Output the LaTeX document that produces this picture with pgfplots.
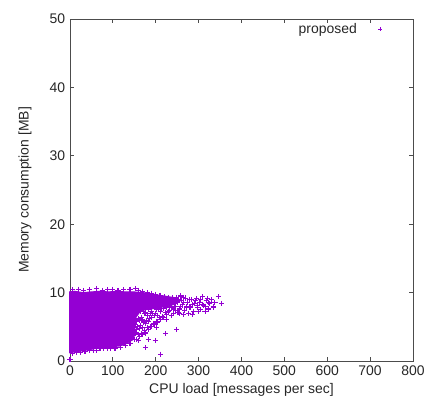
\documentclass[border=0pt]{standalone}
\usepackage{fontspec}
\setmainfont{Liberation Sans}
\usepackage{pgfplots}
\pgfplotsset{compat=1.18}
\definecolor{dv}{RGB}{148,0,211}
\begin{document}
\fontsize{14}{16}\selectfont
\begin{tikzpicture}
\useasboundingbox (-70bp,-38bp) rectangle (366bp,361bp);
\begin{axis}[
  scale only axis, width=343bp, height=342bp,
  at={(0,0)}, anchor=south west,
  xmin=0, xmax=800, ymin=0, ymax=50,
  xtick={0,100,...,800}, ytick={0,10,...,50},
  tick align=inside, major tick length=4bp,
  axis line style={black!70, line width=0.8bp},
  every tick/.style={black!70, line width=0.8bp},
  tick label style={black!85, font=\fontsize{14}{16}\selectfont},
  /pgf/number format/assume math mode=true,
  xlabel={CPU load [messages per sec]},
  ylabel={Memory consumption [MB]},
  label style={black!85, font=\fontsize{14}{16}\selectfont},
  xlabel style={at={(axis description cs:0.5,-0.085)}, anchor=center},
  ylabel style={at={(axis description cs:-0.131,0.5)}, anchor=center},
  clip=false,
  legend plot pos=right,
  legend cell align=right,
  legend style={draw=none, fill=none, at={(axis description cs:0.93,1.0)}, anchor=north east, font=\fontsize{14}{16}\selectfont, text=black!85},
  legend image code/.code={\path[draw=none, fill=none] (0cm,-0.05cm) rectangle (0.95cm,0.05cm); \draw[#1, mark size=1.8pt] plot coordinates {(0.75cm,0cm)};},
]
% dense core of the cloud
\addplot[fill=dv, draw=dv, line width=1pt, forget plot] coordinates {
(-2,10.1) (10,10.2) (30,10.0) (50,10.1) (70,10.2) (90,10.1) (110,10.2) (130,10.1)
(150,10.1) (170,10.0) (190,9.8) (210,9.6) (230,9.4) (250,9.2) (256,8.7)
(245,8.3) (225,8.0) (200,7.7) (175,7.5) (163,7.2) (154,6.4) (149,3.2) (130,2.5)
(117,2.2) (90,2.05) (70,1.95) (40,1.6) (20,1.4) (-2,1.2)
};
\addplot[only marks, mark=+, mark size=2.6pt, line width=1.1pt, color=dv] coordinates {
(151,3.1) (149,3.7) (152,4.1) (148,4.9) (153,5.3) (150,6.1) (147,6.7) (152,7.1)
(156,3.2) (159,3.9) (155,4.6) (158,5.0) (156,5.8) (160,6.2) (155,6.9) (158,7.4)
(163,3.6) (166,4.0) (162,4.8) (165,5.2) (163,6.0) (167,6.4) (164,7.2)
(170,3.9) (173,4.5) (169,4.9) (172,5.7) (170,6.1) (174,6.9) (171,7.5)
(177,4.1) (180,4.9) (176,5.5) (179,5.9) (181,6.7) (177,7.1)
(184,4.6) (187,5.0) (183,5.8) (186,6.2) (188,7.0) (184,7.6)
(191,5.1) (194,5.5) (190,6.3) (193,6.9) (191,7.3)
(198,5.4) (201,5.8) (197,6.6) (200,7.0) (202,7.6)
(205,5.7) (208,6.3) (204,6.7) (207,7.5)
(212,6.1) (215,6.5) (211,7.3) (214,7.7)
(219,6.3) (222,7.1) (219,7.7) (226,6.8) (229,7.2) (225,7.9)
(245,8.0) (250,8.6) (255,7.6) (260,8.9) (262,8.2) (268,7.4) (270,9.2) (275,8.5)
(280,7.9) (283,9.0) (288,7.2) (290,8.4) (295,9.1) (298,7.8) (302,8.6) (305,7.5)
(310,9.4) (312,8.1) (318,8.8) (322,7.6) (326,8.4) (330,9.0) (334,7.9) (338,8.6)
(346,9.4) (353,8.4) (248,9.3) (258,9.5) (242,7.0) (252,7.1) (265,6.8) (276,7.0)
(285,6.8) (300,7.2) (315,7.3) (240,9.2) (230,9.3) (232,7.4) (236,6.7)
(258,8.0) (265,8.6) (272,7.9) (278,9.0) (285,8.3) (292,8.8) (297,8.1) (304,9.0)
(308,8.3) (315,8.0) (320,9.1) (324,8.5) (264,9.3) (252,9.0) (246,7.4) (256,7.0)
(241,7.6) (236,7.9) (238,8.6)
(176,1.95) (199,3.0) (212,1.0) (223,4.0) (249,4.6) (225,6.1) (202,4.9) (183,3.2)
(140,2.6) (130,2.3) (118,2.0) (105,1.9) (160,3.0)
(5,1.1) (15,1.2) (25,1.3) (35,1.4) (45,1.5) (55,1.6) (62,1.6) (70,1.8) (78,1.85)
(88,1.9) (95,1.9) (0,0.2)
(5,10.4) (20,10.5) (32,10.3) (45,10.4) (62,10.6) (75,10.3) (88,10.4) (100,10.5)
(112,10.3) (125,10.4) (140,10.5) (152,10.6) (160,10.3) (170,10.2) (180,10.0)
(190,9.9) (200,9.7) (210,9.6) (220,9.4) (170,9.8)
};
\addlegendentry{proposed}
\end{axis}
\end{tikzpicture}
\end{document}
